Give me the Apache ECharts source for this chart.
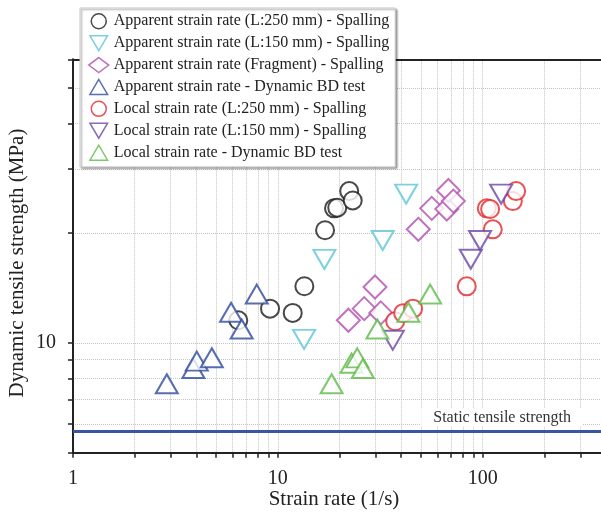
<!DOCTYPE html>
<html>
<head>
<meta charset="utf-8">
<script src="https://cdn.jsdelivr.net/npm/echarts@6/dist/echarts.min.js"></script>
<style>html,body{margin:0;padding:0;background:#fff}#c{width:601px;height:514px}</style>
</head>
<body>
<div id="c"></div>
<script>
// ---- data ----
const seriesNames = [
  'Apparent strain rate (L:250 mm) - Spalling',
  'Apparent strain rate (L:150 mm) - Spalling',
  'Apparent strain rate (Fragment) - Spalling',
  'Apparent strain rate - Dynamic BD test',
  'Local strain rate (L:250 mm) - Spalling',
  'Local strain rate (L:150 mm) - Spalling',
  'Local strain rate - Dynamic BD test'
];
const appL250X = [6.41, 9.16, 11.82, 13.47, 17.0, 18.8, 19.5, 22.3, 23.2];
const appL250Y = [11.54, 12.42, 12.09, 14.31, 20.38, 23.4, 23.5, 26.1, 24.6];
const appL150X = [13.43, 16.87, 32.5, 42.3];
const appL150Y = [10.23, 16.95, 19.1, 25.6];
const appFragX = [22.1, 26.4, 29.8, 31.8, 48.5, 56.4, 66.8, 68.0, 71.9];
const appFragY = [11.54, 12.42, 14.24, 12.09, 20.5, 23.4, 23.3, 26.2, 24.5];
const appBDX = [2.87, 3.87, 4.02, 4.76, 5.91, 6.66, 7.89];
const appBDY = [7.73, 8.51, 8.92, 9.11, 12.14, 10.92, 13.62];
const locL250X = [37.4, 40.9, 45.7, 83.6, 104.7, 108.7, 112, 140.3, 145.6];
const locL250Y = [11.47, 12.07, 12.42, 14.3, 23.4, 23.3, 20.5, 24.5, 26.1];
const locL150X = [36.4, 87.5, 97.1, 123];
const locL150Y = [10.17, 16.97, 19.1, 25.6];
const locBDX = [18.3, 22.9, 24.4, 26.0, 30.6, 43.4, 55.4];
const locBDY = [7.73, 8.8, 9.1, 8.51, 10.92, 12.14, 13.62];
const staticStrength = 5.72;
const staticLabel = 'Static tensile strength';
const xMin = 1, xMax = 378;
const yMin = 5, yMax = 60;
const xTickValues = [1,2,3,4,5,6,7,8,9,10,20,30,40,50,60,70,80,90,100,200,300];
const xLabelValues = [1, 10, 100];
const yTickValues = [5,6,7,8,9,10,20,30,40,50,60];
const yLabelValues = [10];
const xName = 'Strain rate (1/s)';
const yName = 'Dynamic tensile strength (MPa)';

// ---- chart ----
const FONT = 'Liberation Serif';
const zip = (xs, ys) => xs.map((x, i) => [x, ys[i]]);
const UP = 'path://M0,17L20,17L10,0Z';
const DOWN = 'path://M0,0L20,0L10,17Z';
const styles = [
  {color:'#1a1a1a', symbol:'emptyCircle', size:18, rot:0, icon:'circle'},
  {color:'#5cc6d6', symbol:'emptyTriangle', size:[22,19], rot:180, icon:DOWN},
  {color:'#b24fae', symbol:'emptyDiamond', size:23, rot:0, icon:'diamond'},
  {color:'#2f4a9c', symbol:'emptyTriangle', size:[22,19], rot:0, icon:UP},
  {color:'#e5262b', symbol:'emptyCircle', size:18, rot:0, icon:'circle'},
  {color:'#6a46a6', symbol:'emptyTriangle', size:[22,19], rot:180, icon:DOWN},
  {color:'#5cb947', symbol:'emptyTriangle', size:[22,19], rot:0, icon:UP}
];
const dataSets = [
  zip(appL250X, appL250Y), zip(appL150X, appL150Y), zip(appFragX, appFragY),
  zip(appBDX, appBDY), zip(locL250X, locL250Y), zip(locL150X, locL150Y), zip(locBDX, locBDY)
];
const scatter = seriesNames.map((name, i) => ({
  name, type:'scatter', data: dataSets[i],
  symbol: styles[i].symbol, symbolSize: styles[i].size, symbolRotate: styles[i].rot,
  itemStyle: {color: styles[i].color, borderColor: styles[i].color, borderWidth: 1.8},
  emphasis: {disabled: true}, z: 3
}));
scatter.push({
  name:'static', type:'scatter', data: [], silent:true,
  markLine: {
    silent:true, symbol:['none','none'], animation:false,
    lineStyle:{color:'#3d55a0', width:3, type:'solid'},
    label:{show:true, formatter: staticLabel, position:'insideEndTop', distance:[18,5],
      fontFamily:FONT, fontSize:16, color:'#333', backgroundColor:'#fff', padding:[1,12,1,12]},
    data:[{yAxis: staticStrength}]
  }
});
const legendData = seriesNames.map((name, i) => ({
  name, icon: styles[i].icon,
  itemStyle: {color:'#fff', borderColor: styles[i].color, borderWidth: 1.5}
}));

const chart = echarts.init(document.getElementById('c'), null, {renderer:'canvas'});
chart.setOption({
  animation:false,
  backgroundColor:'#fff',
  grid:{left:73, top:59.3, bottom:61.3, right:0, containLabel:false, outerBoundsMode:'none'},
  legend:{
    data: legendData, orient:'vertical', left:80, top:8,
    padding:[5,6,6,8], itemGap:5.4, itemWidth:20, itemHeight:15,
    backgroundColor:'#fff', borderColor:'#c8c8c8', borderWidth:1,
    shadowColor:'rgba(0,0,0,0.4)', shadowBlur:2, shadowOffsetX:1.5, shadowOffsetY:1.5,
    textStyle:{fontFamily:FONT, fontSize:16, color:'#222'},
    selectedMode:false, z:10
  },
  xAxis:[{
    type:'log', min:xMin, max:xMax, logBase:10,
    name:xName, nameLocation:'middle', nameGap:36, nameMoveOverlap:false,
    nameTextStyle:{fontFamily:FONT, fontSize:21, color:'#222', padding:[0,6,0,0]},
    axisLine:{show:true, lineStyle:{color:'#222', width:2}},
    axisTick:{show:true, length:5, customValues:xTickValues, lineStyle:{color:'#222', width:1.5}},
    axisLabel:{show:true, customValues:xLabelValues, margin:16, fontFamily:FONT, fontSize:20, color:'#222',
      formatter: v => String(Math.round(v))},
    splitLine:{show:true, lineStyle:{color:'#c4c4c4', width:1, type:[1,1]}},
    minorTick:{show:false}
  },{
    type:'log', min:xMin, max:xMax, position:'top',
    axisLine:{show:true, lineStyle:{color:'#222', width:2}},
    axisTick:{show:false}, axisLabel:{show:false}, splitLine:{show:false}
  }],
  yAxis:[{
    type:'log', min:yMin, max:yMax, logBase:10,
    name:yName, nameLocation:'middle', nameGap:45, nameRotate:90, nameMoveOverlap:false,
    nameTextStyle:{fontFamily:FONT, fontSize:21, color:'#222', padding:[0,14,0,0]},
    axisLine:{show:true, lineStyle:{color:'#222', width:2}},
    axisTick:{show:true, length:5, customValues:yTickValues, lineStyle:{color:'#222', width:1.5}},
    axisLabel:{show:true, customValues:yLabelValues, margin:17, fontFamily:FONT, fontSize:20, color:'#222',
      formatter: v => String(Math.round(v))},
    splitLine:{show:true, lineStyle:{color:'#c4c4c4', width:1, type:[1,1]}}
  }],
  series: scatter
});
</script>
</body>
</html>
